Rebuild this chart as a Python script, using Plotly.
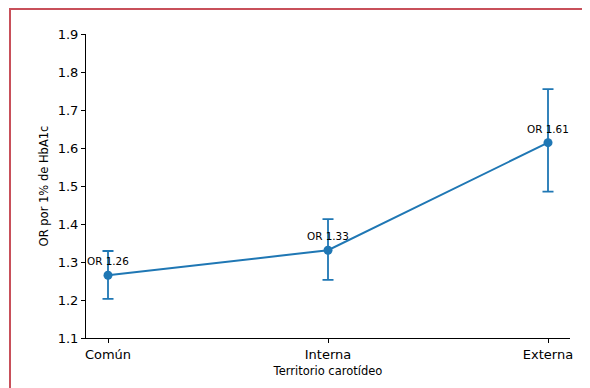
import plotly.graph_objects as go

categories = ["Común", "Interna", "Externa"]
or_values = [1.265, 1.331, 1.614]
ci_lower = [1.203, 1.253, 1.485]
ci_upper = [1.329, 1.413, 1.755]
labels = ["OR 1.26", "OR 1.33", "OR 1.61"]
y_ticks = [1.1, 1.2, 1.3, 1.4, 1.5, 1.6, 1.7, 1.8, 1.9]

# page has an 8px body margin, so the figure is offset by (8, 8)
OFF = 8
W, H = 590 - OFF, 388 - OFF
ML, MR, MT, MB = 86 - OFF, 20, 34 - OFF, 50
PW, PH = W - ML - MR, H - MT - MB

color = "#1f77b4"
font = "DejaVu Sans"

fig = go.Figure()
fig.add_trace(go.Scatter(
    x=list(range(len(categories))),
    y=or_values,
    mode="lines+markers",
    line=dict(color=color, width=2),
    marker=dict(color=color, size=9),
    error_y=dict(
        type="data", symmetric=False,
        array=[u - v for u, v in zip(ci_upper, or_values)],
        arrayminus=[v - l for v, l in zip(or_values, ci_lower)],
        color=color, thickness=1.8, width=5.5,
    ),
    showlegend=False,
    hoverinfo="skip",
))

for i, (v, t) in enumerate(zip(or_values, labels)):
    fig.add_annotation(x=i, y=v, text=t, showarrow=False, xanchor="center",
                       yanchor="middle", yshift=14,
                       font=dict(family=font, size=10.4, color="black"))

def px_x(p):
    return (p - ML) / PW

def px_y(p):
    return (H - MB - p) / PH

# red frame (left and top edges), in figure pixel coords
frame_color = "#c8505a"
fig.add_shape(type="line", xref="paper", yref="paper",
              x0=px_x(2), x1=px_x(2), y0=px_y(0), y1=px_y(H + 10),
              line=dict(color=frame_color, width=2))
fig.add_shape(type="line", xref="paper", yref="paper",
              x0=px_x(1), x1=px_x(W + 10), y0=px_y(1), y1=px_y(1),
              line=dict(color=frame_color, width=2))

fig.update_layout(
    width=W, height=H,
    margin=dict(l=ML, r=MR, t=MT, b=MB, pad=0),
    paper_bgcolor="white", plot_bgcolor="white",
    font=dict(family=font, color="black"),
    xaxis=dict(
        range=[-0.1, 2.1],
        tickmode="array", tickvals=list(range(len(categories))), ticktext=categories,
        showgrid=False, zeroline=False,
        showline=True, linecolor="black", linewidth=1,
        ticks="outside", ticklen=4, tickcolor="black", tickwidth=1,
        tickfont=dict(family=font, size=13, color="black"),
        title=dict(text="Territorio carotídeo", font=dict(family=font, size=11.5, color="black"), standoff=6),
        automargin=False,
    ),
    yaxis=dict(
        range=[1.1, 1.9],
        tickmode="array", tickvals=y_ticks, ticktext=[f"{t:.1f}" for t in y_ticks],
        showgrid=False, zeroline=False,
        showline=True, linecolor="black", linewidth=1,
        ticks="outside", ticklen=4, tickcolor="black", tickwidth=1,
        tickfont=dict(family=font, size=13, color="black"),
        title=dict(text="OR por 1% de HbA1c", font=dict(family=font, size=11.5, color="black"), standoff=6),
        automargin=False,
    ),
)

fig.write_html("out.html")
